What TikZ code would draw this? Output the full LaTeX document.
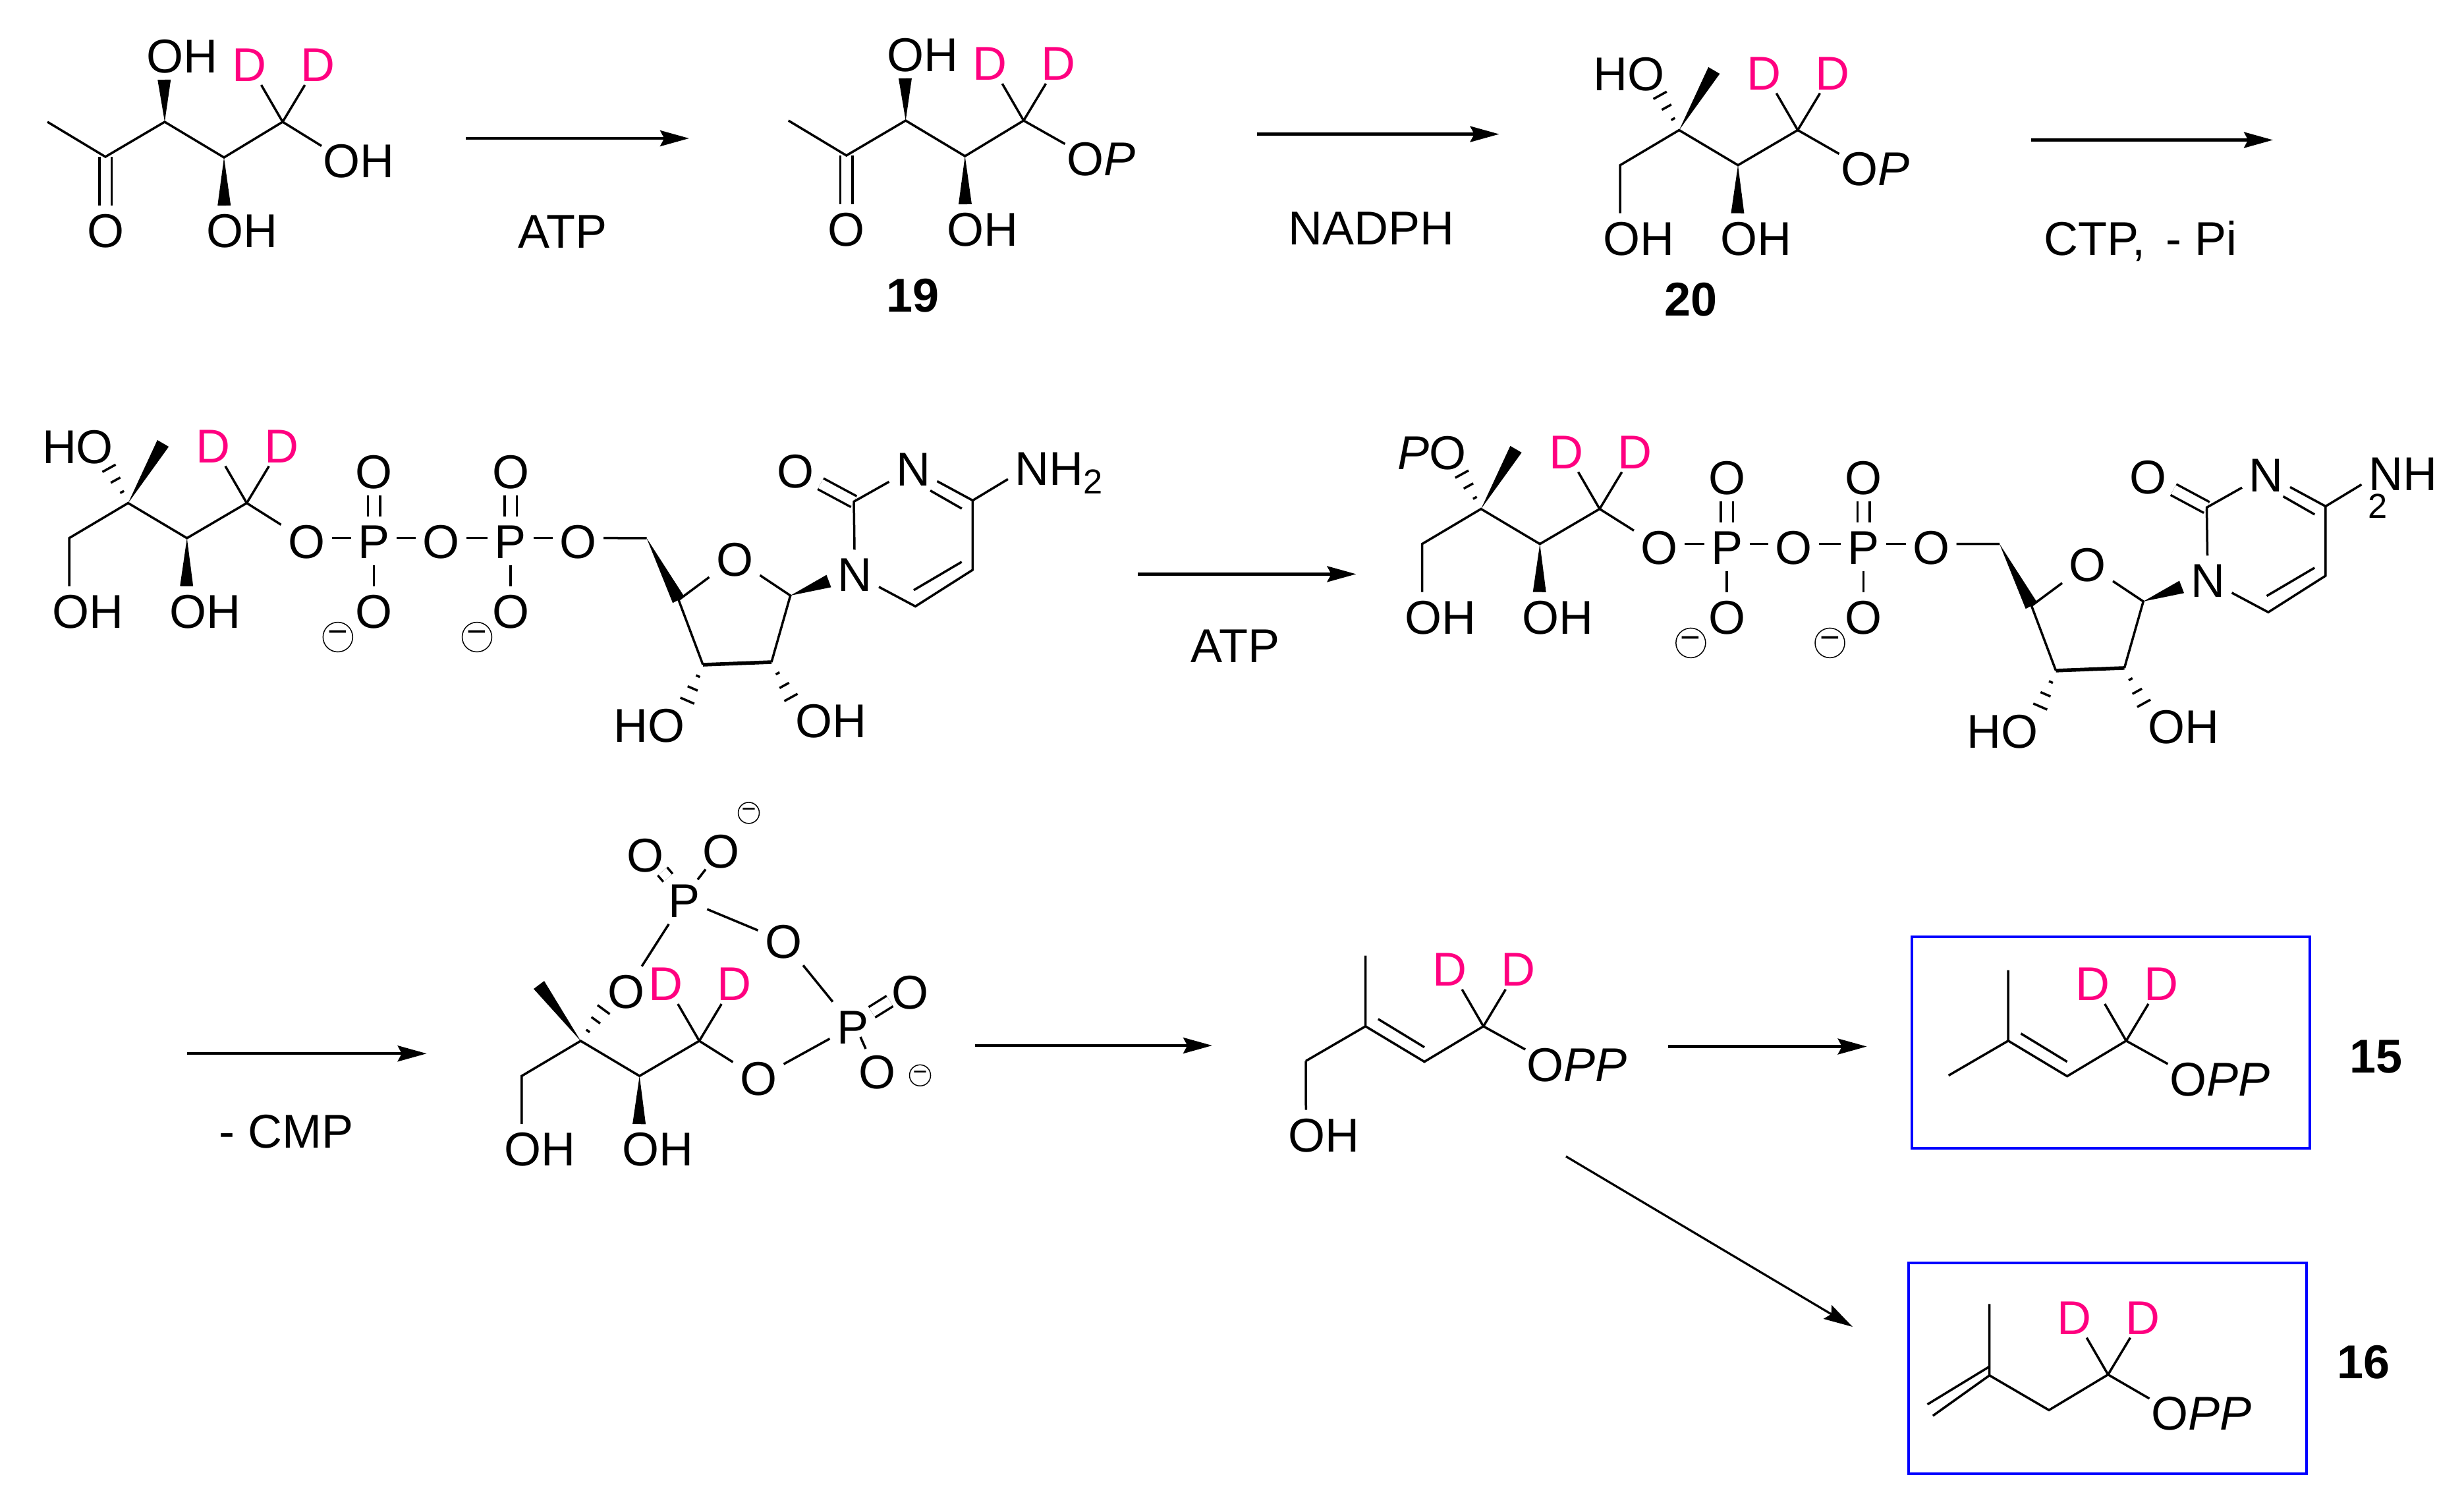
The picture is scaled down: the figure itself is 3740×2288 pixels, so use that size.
\documentclass[tikz,border=0pt]{standalone}
\usepackage{fontspec}
\setmainfont{Liberation Sans}
\usetikzlibrary{arrows.meta,calc}

\definecolor{ddpink}{HTML}{FF0080}
\definecolor{prodblue}{HTML}{0000FF}

\newcommand{\wedgebond}[2]{\fill ($(#2)!4pt!90:(#1)$) -- (#1) -- ($(#2)!4pt!-90:(#1)$) -- cycle;}
\newcommand{\hashbond}[2]{\foreach \hpos/\hlen in {.28/1.3,.58/3.3,.88/4.6}{\draw[bond] ($(#1)!\hpos!(#2)!\hlen pt!90:(#2)$) -- ($(#1)!\hpos!(#2)!\hlen pt!-90:(#2)$);}}
\newcommand{\obond}[2]{\draw[bond] (#1) -- ([xshift=3.2pt,yshift=-6.2pt]#2.north west);}

\tikzset{
	bond/.style={line width=1.4pt},
	boldbond/.style={line width=2.2pt},
	dbond/.style={line width=1.4pt,double,double distance=6pt},
	rxn/.style={line width=1.7pt,-{Stealth[length=17.6pt,width=9.6pt,inset=2.5pt]}},
	atom/.style={font=\fontsize{28.8}{30}\selectfont,inner sep=4pt,text height=21.2pt,text depth=0pt},
	deut/.style={atom,inner sep=2pt,text=ddpink},
	cmpd/.style={atom,font=\fontsize{28.8}{30}\selectfont\bfseries},
	subtwo/.style={font=\fontsize{21}{21}\selectfont,inner sep=0pt},
	charge/.style={circle,draw,line width=.6pt,minimum size=18pt,inner sep=0pt,font=\fontsize{21}{21}\selectfont},
	smallcharge/.style={circle,draw,line width=.6pt,minimum size=12.8pt,inner sep=0pt,font=\fontsize{15}{15}\selectfont},
	prodbox/.style={draw=prodblue,line width=1.6pt,minimum width=241.8pt,minimum height=128.3pt,inner sep=0pt,outer sep=0pt},
	pics/ddpair/.style={code={
		\coordinate (-dc) at (0,0);
		\node[deut] (-d1) at (-51,-88) {D};
		\node[deut] (-d2) at (53,-88) {D};
		\draw[bond] (-dc) -- (-d1);
		\draw[bond] (-dc) -- (-d2);
	}},
	pics/ketochain/.style={code={
		\coordinate (-me) at (-357,0);
		\coordinate (-co) at (-269,53);
		\coordinate (-c3) at (-179,0);
		\coordinate (-ch) at (-89,54);
		\coordinate (-c) at (0,0);
		\node[atom] (-ot) at (-269,164) {O};
		\node[atom] (-oh1) at (-153,-101) {OH};
		\node[atom] (-oh2) at (-62,164) {OH};
		\coordinate (-w1) at ([xshift=-10.7pt]-oh1.south);
		\coordinate (-w2) at ([xshift=-10.7pt]-oh2.north);
		\draw[dbond] (-co) -- (-ot);
		\draw[bond] (-me) -- (-co) -- (-c3) -- (-ch) -- (-c);
		\wedgebond{-c3}{-w1}
		\wedgebond{-ch}{-w2}
		\pic at (0,0) {ddpair};
	}},
	pics/chainbase/.style={code={
		\coordinate (-c3) at (-180,0);
		\coordinate (-ch2) at (-269.5,53.2);
		\coordinate (-ch) at (-90.7,53.2);
		\coordinate (-c) at (0,0);
		\node[atom] (-oh1) at (-241.5,163.2) {OH};
		\node[atom] (-oh2) at (-63.3,163.2) {OH};
		\coordinate (-w2) at ([xshift=-11.2pt]-oh2.north);
		\draw[bond] ([xshift=-11.2pt]-oh1.north) -- (-ch2) -- (-c3) -- (-ch) -- (-c);
		\wedgebond{-ch}{-w2}
		\pic at (0,0) {ddpair};
	}},
	pics/branched/.style={code={
		\pic at (0,0) {chainbase};
		\coordinate (-mw) at (-127,-90.6);
		\coordinate (-he) at (-213,-60);
		\node[atom,anchor=east] (-oh3) at (-192,-86.8) {#1};
		\wedgebond{-c3}{-mw}
		\hashbond{-c3}{-he}
	}},
	pics/cdptail/.style={code={
		\node[atom] (-o1) at (90.5,57.1) {O};
		\node[atom] (-p1) at (193.2,57.1) {P};
		\node[atom] (-o2) at (294.5,57.1) {O};
		\node[atom] (-p2) at (400.5,57.1) {P};
		\node[atom] (-o3) at (503.2,57.1) {O};
		\node[atom] (-ot1) at (193.2,-48.6) {O};
		\node[atom] (-ot2) at (400.5,-48.6) {O};
		\node[atom] (-ob1) at (193.2,163.2) {O};
		\node[atom] (-ob2) at (400.5,163.2) {O};
		\node[charge] (-q1) at (138.3,203.4) {−};
		\node[charge] (-q2) at (349.5,203.4) {−};
		\coordinate (-c5) at (607,53.2);
		\coordinate (-c4) at (655.5,147);
		\coordinate (-c3r) at (692.5,245.4);
		\coordinate (-c2r) at (796.5,241.4);
		\coordinate (-c1r) at (825.2,140.4);
		\node[atom] (-or) at (740.5,83.9) {O};
		\node[atom] (-n1) at (923,107.8) {N};
		\coordinate (-bc2) at (921.5,-2.2);
		\node[atom] (-oc) at (832.5,-50) {O};
		\node[atom] (-n3) at (1011.5,-52.9) {N};
		\coordinate (-bc4) at (1101.9,-4);
		\coordinate (-bc5) at (1101.9,101.4);
		\coordinate (-bc6) at (1014.9,156.8);
		\coordinate (-in1) at (1037.5,-19);
		\coordinate (-in2) at (1085.3,8.4);
		\coordinate (-in3) at (1085.2,89.3);
		\coordinate (-in4) at (1012.5,132.1);
		\coordinate (-wn) at (883.5,118.4);
		\coordinate (-h3) at (665.5,307.4);
		\coordinate (-h2) at (830,302.4);
		\node[atom] (-ho) at (611.2,336.4) {HO};
		\node[atom] (-oh) at (886.7,329.3) {OH};
		\draw[dbond] (-p1) -- (-ot1);
		\draw[dbond] (-p2) -- (-ot2);
		\draw[dbond] (-bc2) -- (-oc);
		\draw[bond] (-c) -- (-o1);
		\draw[bond] ([yshift=1.6pt]-o1.east) -- ([yshift=1.6pt]-p1.west);
		\draw[bond] ([yshift=1.6pt]-p1.east) -- ([yshift=1.6pt]-o2.west);
		\draw[bond] ([yshift=1.6pt]-o2.east) -- ([yshift=1.6pt]-p2.west);
		\draw[bond] ([yshift=1.6pt]-p2.east) -- ([yshift=1.6pt]-o3.west);
		\draw[bond] ([yshift=1.6pt]-o3.east) -- (-c5);
		\draw[bond] (-p1) -- (-ob1);
		\draw[bond] (-p2) -- (-ob2);
		\wedgebond{-c5}{-c4}
		\draw[bond] (-or) -- (-c4) -- (-c3r);
		\draw[boldbond] (-c3r) -- (-c2r);
		\draw[bond] (-c2r) -- (-c1r) -- (-or);
		\wedgebond{-c1r}{-wn}
		\hashbond{-c3r}{-h3}
		\hashbond{-c2r}{-h2}
		\draw[bond] (-n1) -- (-bc2) -- (-n3) -- (-bc4) -- (-bc5) -- (-bc6) -- (-n1);
		\draw[bond] (-in1) -- (-in2);
		\draw[bond] (-in3) -- (-in4);
	}},
	pics/prenyl/.style={code={
		\coordinate (-c3) at (-179,0);
		\coordinate (-mu) at (-179,-107.2);
		\coordinate (-ch) at (-89.6,53.8);
		\coordinate (-me) at (-269.6,52.7);
		\coordinate (-c) at (0,0);
		\coordinate (-in1) at (-159.8,-11);
		\coordinate (-in2) at (-89.6,31.8);
		\draw[bond] (-mu) -- (-c3) -- (-ch) -- (-c);
		\draw[bond] (-me) -- (-c3);
		\draw[bond] (-in1) -- (-in2);
		\pic at (0,0) {ddpair};
	}},
}

\begin{document}
\begin{tikzpicture}[x=0.4pt,y=-0.4pt]
	\useasboundingbox (0,0) rectangle (3740,2288);

	\pic (ma) at (429,185) {ketochain};
	\node[atom] (maoh) at (544.5,243) {OH};
	\obond{ma-c}{maoh}

	\pic (mb) at (1553.7,183) {ketochain};
	\node[atom] (mbop) at (1671,240) {O\textit{P}};
	\obond{mb-c}{mbop}
	\node[cmpd] (nineteen) at (1385.8,447) {19};

	\pic (mc) at (2728.7,197.5) {branched={HO}};
	\node[atom] (mcop) at (2846,255) {O\textit{P}};
	\obond{mc-c}{mcop}
	\node[cmpd] (twenty) at (2566.5,452.9) {20};

	\coordinate (a1s) at (707,210);
	\coordinate (a1e) at (1046,210);
	\draw[rxn] (a1s) -- (a1e);
	\node[atom] (atpa) at (853.7,350) {ATP};
	\coordinate (a2s) at (1908,203.6);
	\coordinate (a2e) at (2275.5,203.6);
	\draw[rxn] (a2s) -- (a2e);
	\node[atom] (nadph) at (2081.7,344.6) {NADPH};
	\coordinate (a3s) at (3083,212.5);
	\coordinate (a3e) at (3450,212.5);
	\draw[rxn] (a3s) -- (a3e);
	\node[atom] (ctp) at (3248.6,360.7) {CTP,\hspace{.42em}- Pi};

	\pic (ra) at (374.5,763.6) {branched={HO}};
	\pic (ra) at (374.5,763.6) {cdptail};
	\node[atom] (ranh) at (1607,709.8) {NH\raisebox{-5.4pt}{\fontsize{21}{21}\selectfont 2}};
	\draw[bond] (ra-bc4) -- ([yshift=-7pt]ranh.west);

	\coordinate (a4s) at (1727,871.4);
	\coordinate (a4e) at (2058.4,871.4);
	\draw[rxn] (a4s) -- (a4e);
	\node[atom] (atpb) at (1875,979) {ATP};

	\pic (rb) at (2428,772.5) {branched={\textit{P}O}};
	\pic (rb) at (2428,772.5) {cdptail};
	\node[atom] (rbnh) at (3647,717.9) {NH};
	\node[subtwo] (rbtwo) at (3608.7,767.9) {2};
	\draw[bond] (rb-bc4) -- ([yshift=-7pt]rbnh.west);

	\coordinate (a5s) at (284,1599.2);
	\coordinate (a5e) at (647.6,1599.2);
	\draw[rxn] (a5s) -- (a5e);
	\node[atom] (cmp) at (434.7,1716) {- CMP};

	\pic (cy) at (1061.4,1580) {chainbase};
	\coordinate (cymw) at (818,1495);
	\coordinate (cyhe) at (921,1526);
	\wedgebond{cy-c3}{cymw}
	\hashbond{cy-c3}{cyhe}
	\node[atom] (oa) at (950.5,1503.7) {O};
	\node[atom] (pa) at (1038.8,1365.7) {P};
	\node[atom] (oat) at (979,1297) {O};
	\node[atom] (oam) at (1094.8,1291) {O};
	\node[smallcharge] (qa) at (1136.5,1233.9) {−};
	\node[atom] (obr) at (1189,1428.2) {O};
	\node[atom] (pb) at (1294,1557.6) {P};
	\node[atom] (obt) at (1381,1504.5) {O};
	\node[atom] (obm) at (1331,1626) {O};
	\node[smallcharge] (qb) at (1396.5,1632.3) {−};
	\node[atom] (oc) at (1151,1636.4) {O};
	\coordinate (paa) at (1005.5,1322.6);
	\coordinate (pab) at (1013.9,1332.4);
	\coordinate (pac) at (1071,1319.6);
	\coordinate (pad) at (1059,1335);
	\coordinate (pba) at (1323.4,1536.5);
	\coordinate (pbb) at (1350.6,1519.5);
	\coordinate (pbc) at (1306,1574);
	\coordinate (pbd) at (1314,1592);
	\draw[dbond] (paa) -- (pab);
	\draw[dbond] (pba) -- (pbb);
	\draw[bond] (pac) -- (pad);
	\draw[bond] (pbc) -- (pbd);
	\draw[bond] (oa) -- (pa);
	\draw[bond] (pa) -- (obr);
	\draw[bond] (obr) -- (pb);
	\draw[bond] (pb) -- (oc);
	\draw[bond] (cy-c) -- (oc);

	\coordinate (a6s) at (1480,1587);
	\coordinate (a6e) at (1840,1587);
	\draw[rxn] (a6s) -- (a6e);

	\pic (pr) at (2251.6,1557.8) {prenyl};
	\node[atom] (proh) at (2009,1721.7) {OH};
	\draw[bond] (pr-me) -- ([xshift=-10.7pt]proh.north);
	\node[atom] (prop) at (2393.7,1614.5) {O\textit{PP}};
	\obond{pr-c}{prop}

	\coordinate (a7s) at (2532,1588.5);
	\coordinate (a7e) at (2833.6,1588.5);
	\draw[rxn] (a7s) -- (a7e);
	\coordinate (a8s) at (2376.9,1755.3);
	\coordinate (a8e) at (2812,2014);
	\draw[rxn,line width=1.3pt] (a8s) -- (a8e);

	\node[prodbox] (boxa) at (3203.8,1582.1) {};
	\pic (pe) at (3227.2,1579.8) {prenyl};
	\node[atom] (peop) at (3369,1636.5) {O\textit{PP}};
	\obond{pe-c}{peop}
	\node[cmpd] (fifteen) at (3606.4,1601.8) {15};

	\node[prodbox] (boxb) at (3199.2,2076.9) {};
	\coordinate (ipc) at (3199.7,2086.5);
	\coordinate (ipq) at (3019.7,2087.7);
	\coordinate (ipu) at (3019.7,1979.4);
	\coordinate (iph) at (3110,2140.4);
	\coordinate (ipm) at (2933.8,2149);
	\coordinate (ipa) at (3018.5,2075);
	\coordinate (ipb) at (2925.5,2131.7);
	\draw[bond] (ipu) -- (ipq) -- (iph) -- (ipc);
	\draw[bond] (ipq) -- (ipm);
	\draw[bond] (ipa) -- (ipb);
	\pic (ip) at (3199.7,2086.5) {ddpair};
	\node[atom] (ipop) at (3341,2144.4) {O\textit{PP}};
	\obond{ipc}{ipop}
	\node[cmpd] (sixteen) at (3587.3,2066.2) {16};
\end{tikzpicture}
\end{document}
